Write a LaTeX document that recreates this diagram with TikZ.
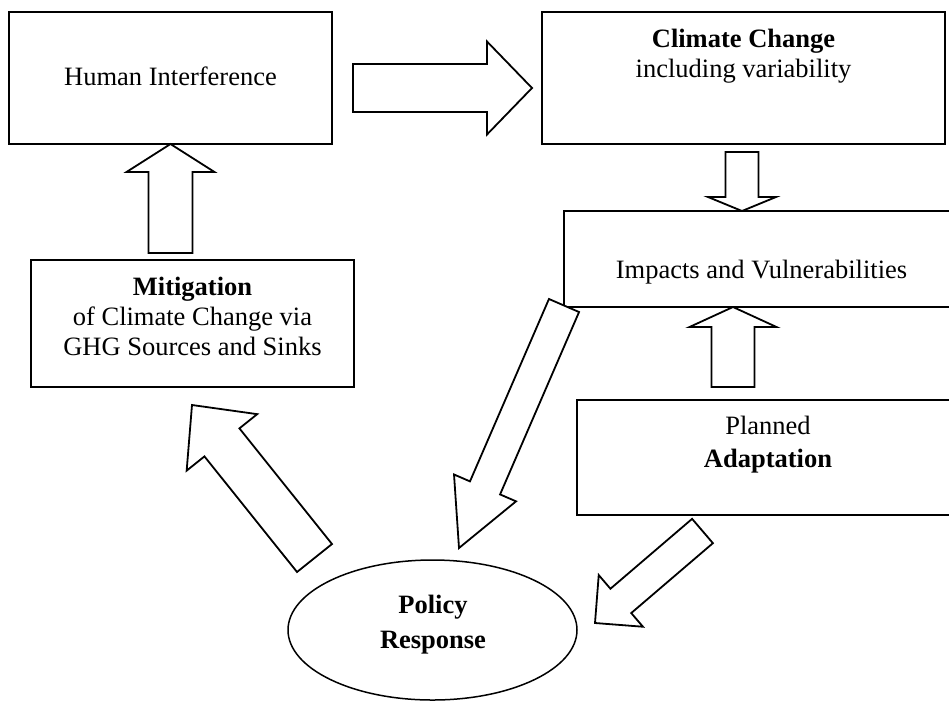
\documentclass[tikz,border=0pt]{standalone}
\usepackage{fontspec}
\setmainfont{Liberation Serif}
\usetikzlibrary{calc,shapes.geometric}

\tikzset{
	box/.style={draw, line width=1.8pt, inner sep=0pt, outer sep=0pt},
	lbl/.style={font=\fontsize{26.5}{30}\selectfont, align=center, inner sep=0pt},
	fatarrow/.style={draw, fill=white, line width=1.8pt, line join=miter},
}

% tail, tip, shaft half width, head half width, head length
\newcommand{\blockarrow}[5]{%
	\coordinate (ba-base) at ($(#2)!#5!(#1)$);
	\draw[fatarrow] ($(#1)!#3!90:(#2)$) -- ($(ba-base)!#3!90:(#2)$) -- ($(ba-base)!#4!90:(#2)$) -- (#2)
		-- ($(ba-base)!#4!-90:(#2)$) -- ($(ba-base)!#3!-90:(#2)$) -- ($(#1)!#3!-90:(#2)$) -- cycle;
}

\begin{document}
\begin{tikzpicture}[x=1pt,y=-1pt]
	\clip (0,0) rectangle (949,702);
	\node[box, minimum width=323pt, minimum height=132pt] (human) at (170.5,78) {};
	\node[box, minimum width=403pt, minimum height=132pt] (climate) at (743.5,78) {};
	\node[box, minimum width=400pt, minimum height=96pt] (impacts) at (764,259) {};
	\node[box, minimum width=323pt, minimum height=127pt] (mitigation) at (192.5,323.5) {};
	\node[box, minimum width=390pt, minimum height=115pt] (planned) at (772,457.5) {};
	\node[box, ellipse, line width=1.5pt, minimum width=289pt, minimum height=140pt] (policy) at (432.5,630) {};

	\node[lbl] (human-txt) at (170.5,76) {Human Interference};
	\node[lbl] (climate-txt) at (743.5,56) {\textbf{Climate Change}\\including variability};
	\node[lbl] (impacts-txt) at (761.5,272) {Impacts and Vulnerabilities};
	\node[lbl] (mitigation-txt) at (192.5,316) {\textbf{Mitigation}\\of Climate Change via\\GHG Sources and Sinks};
	\node[lbl] (planned-txt) at (768,444.5) {Planned\\[3pt]\textbf{Adaptation}};
	\node[lbl] (policy-txt) at (433,624.5) {\textbf{Policy}\\[5pt]\textbf{Response}};

	% arrow ends
	\coordinate (h2c-s) at ([shift={(21,10)}]human.east);
	\coordinate (h2c-t) at ([shift={(-10,10)}]climate.west);
	\coordinate (m2h-s) at ([shift={(-22,-7)}]mitigation.north);
	\coordinate (m2h-t) at (m2h-s |- human.south);
	\coordinate (c2i-s) at ([shift={(-1.5,8)}]climate.south);
	\coordinate (c2i-t) at (c2i-s |- impacts.north);
	\coordinate (a2i-s) at ([shift={(-39,-13)}]planned.north);
	\coordinate (a2i-t) at (a2i-s |- impacts.south);
	\coordinate (i2p-s) at ([shift={(0,-1.5)}]impacts.south west);
	\coordinate (i2p-t) at ([shift={(26.5,-12)}]policy.north);
	\coordinate (p2m-s) at ([shift={(-118,-72)}]policy.center);
	\coordinate (p2m-t) at ([shift={(-0.5,18)}]mitigation.south);
	\coordinate (a2p-s) at ([shift={(125.5,16)}]planned.south west);
	\coordinate (a2p-t) at ([shift={(18,-7)}]policy.east);

	\blockarrow{h2c-s}{h2c-t}{24pt}{46.5pt}{45pt}
	\blockarrow{m2h-s}{m2h-t}{22pt}{44pt}{28pt}
	\blockarrow{c2i-s}{c2i-t}{16.5pt}{34pt}{14pt}
	\blockarrow{a2i-s}{a2i-t}{21.5pt}{43.5pt}{20pt}
	\blockarrow{i2p-s}{i2p-t}{16.4pt}{33.8pt}{65.5pt}
	\blockarrow{p2m-s}{p2m-t}{22.4pt}{45.2pt}{47.9pt}
	\blockarrow{a2p-s}{a2p-t}{16pt}{34pt}{34pt}
\end{tikzpicture}
\end{document}
